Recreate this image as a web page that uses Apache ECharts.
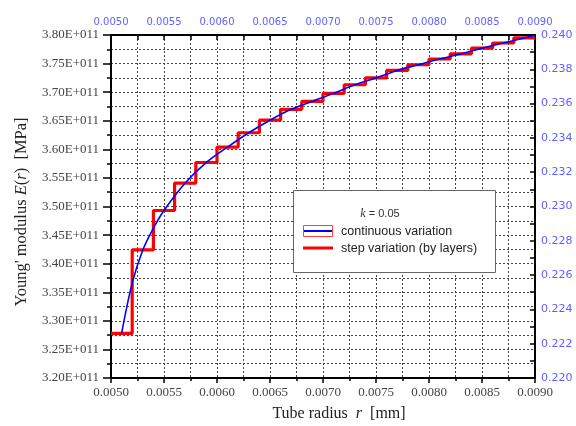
<!DOCTYPE html>
<html>
<head>
<meta charset="utf-8">
<script src="https://cdn.jsdelivr.net/npm/echarts@6/dist/echarts.min.js"></script>
<style>html,body{margin:0;padding:0;background:#fff}#c{width:576px;height:426px}</style>
</head>
<body>
<div id="c"></div>
<script>
// Layer boundaries (tube radius, mm) and step values (Young's modulus)
var layerStarts = [0.0050,0.0052,0.0054,0.0056,0.0058,0.0060,0.0062,0.0064,0.0066,0.0068,
                   0.0070,0.0072,0.0074,0.0076,0.0078,0.0080,0.0082,0.0084,0.0086,0.0088];
var layerEnd = 0.0090;
var stepValues = [3.278e11,3.424e11,3.493e11,3.541e11,3.577e11,3.604e11,3.629e11,3.651e11,3.670e11,3.684e11,
                  3.698e11,3.713e11,3.725e11,3.738e11,3.748e11,3.758e11,3.767e11,3.777e11,3.786e11,3.795e11];
// Continuous variation
var contR = [0.0051,0.0052,0.0053,0.0054,0.0055,0.0057,0.0059,0.0061,0.0063,0.0065,0.0067,0.0069,
             0.0071,0.0073,0.0075,0.0077,0.0079,0.0081,0.0083,0.0085,0.0087,0.0089,0.0090];
var contE = [3.278e11,3.366e11,3.424e11,3.462e11,3.493e11,3.541e11,3.577e11,3.604e11,3.629e11,3.651e11,3.670e11,3.684e11,
             3.698e11,3.713e11,3.725e11,3.738e11,3.748e11,3.758e11,3.767e11,3.777e11,3.786e11,3.795e11,3.799e11];
var seriesNames = ['continuous variation','step variation (by layers)'];
var legendTitle = '= 0.05';

var stepData = layerStarts.map(function(r,i){return [r, stepValues[i]];});
stepData.push([layerEnd, stepValues[stepValues.length-1]]);
var contData = contR.map(function(r,i){return [r, contE[i]];});

var dash = {show:true, lineStyle:{color:'#444', type:[2,2], width:1}};
var serif = 'Liberation Serif';
var blue = '#6060ff';
var chart = echarts.init(document.getElementById('c'));
chart.setOption({
  animation:false,
  backgroundColor:'#fff',
  grid:{left:111, right:41, top:35, bottom:48},
  xAxis:[{
    type:'value', position:'bottom', min:0.005, max:0.009, interval:0.0005,
    axisLine:{lineStyle:{color:'#000', width:2}},
    axisTick:{show:true, inside:false, length:5, lineStyle:{color:'#000', width:1.5}},
    minorTick:{show:true, splitNumber:2, length:3, lineStyle:{color:'#000', width:1.5}},
    splitLine:dash, minorSplitLine:dash,
    axisLabel:{formatter:function(v){return v.toFixed(4);}, color:'#444', fontFamily:serif, fontSize:13, margin:8}
  },{
    type:'value', position:'top', min:0.005, max:0.009, interval:0.0005,
    axisLine:{lineStyle:{color:'#000', width:2}},
    axisTick:{show:true, inside:true, length:5, lineStyle:{color:'#000', width:1.5}},
    minorTick:{show:true, splitNumber:2, length:5, lineStyle:{color:'#000', width:1.5}},
    splitLine:{show:false},
    axisLabel:{formatter:function(v){return v.toFixed(4);}, color:blue, fontFamily:'DejaVu Sans', fontSize:10, margin:8}
  }],
  yAxis:[{
    type:'value', position:'left', min:3.2e11, max:3.8e11, interval:0.05e11,
    axisLine:{show:true, lineStyle:{color:'#000', width:2}},
    axisTick:{show:true, inside:false, length:8, lineStyle:{color:'#000', width:1.5}},
    minorTick:{show:true, splitNumber:2, length:4, lineStyle:{color:'#000', width:1.5}},
    splitLine:dash, minorSplitLine:dash,
    axisLabel:{formatter:function(v){return (v/1e11).toFixed(2)+'E+011';}, color:'#444', fontFamily:serif, fontSize:13, margin:12}
  },{
    type:'value', position:'right', min:0.220, max:0.240, interval:0.002,
    axisLine:{show:true, lineStyle:{color:'#000', width:2}},
    axisTick:{show:true, inside:true, length:5, lineStyle:{color:'#000', width:1.5}},
    minorTick:{show:true, splitNumber:2, length:5, lineStyle:{color:'#000', width:1.5}},
    splitLine:{show:false},
    axisLabel:{formatter:function(v){return v.toFixed(3);}, color:blue, fontFamily:'DejaVu Sans', fontSize:11, margin:6}
  }],
  series:[{
    name:seriesNames[0], type:'line', xAxisIndex:0, yAxisIndex:0, data:contData,
    smooth:0.35, showSymbol:false, lineStyle:{color:'#0000ff', width:1.6}, z:3
  },{
    name:seriesNames[1], type:'line', xAxisIndex:0, yAxisIndex:0, data:stepData,
    step:'end', showSymbol:false, lineStyle:{color:'#ff0000', width:3.2}, z:2
  }],
  graphic:[
    {type:'text', x:22, y:212, rotation:Math.PI/2, z:10,
     style:{text:"{n|Young' modulus }{i|E}{n|(}{i|r}{n|)  [MPa]}", align:'center', verticalAlign:'middle',
       rich:{n:{fontFamily:serif, fontSize:16.5, fill:'#222'}, i:{fontFamily:serif, fontSize:16.5, fontStyle:'italic', fill:'#222'}}}},
    {type:'text', x:339, y:414, z:10,
     style:{text:"{n|Tube radius  }{i|r}{n|  [mm]}", align:'center', verticalAlign:'middle',
       rich:{n:{fontFamily:serif, fontSize:16, fill:'#222'}, i:{fontFamily:serif, fontSize:16, fontStyle:'italic', fill:'#222'}}}},
    {type:'rect', z:20, shape:{x:293.5, y:190.5, width:202, height:82}, style:{fill:'#fff', stroke:'#666', lineWidth:1}},
    {type:'text', z:21, x:380, y:214,
     style:{text:"{i|k}{n| "+legendTitle+"}", align:'center', verticalAlign:'middle',
       rich:{n:{fontFamily:'Liberation Sans', fontSize:11, fill:'#333'}, i:{fontFamily:serif, fontSize:12, fontStyle:'italic', fill:'#333'}}}},
    {type:'rect', z:21, shape:{x:303.5, y:225.5, width:29, height:11}, style:{fill:'#fff', stroke:'#ff4040', lineWidth:1}},
    {type:'line', z:22, shape:{x1:304, y1:231, x2:332, y2:231}, style:{stroke:'#0000ff', lineWidth:2}},
    {type:'text', z:21, x:341, y:232, style:{text:seriesNames[0], fontFamily:'Liberation Sans', fontSize:12.5, fill:'#222', verticalAlign:'middle'}},
    {type:'line', z:22, shape:{x1:303, y1:248, x2:333, y2:248}, style:{stroke:'#ff0000', lineWidth:3}},
    {type:'text', z:21, x:341, y:248.5, style:{text:seriesNames[1], fontFamily:'Liberation Sans', fontSize:12.5, fill:'#222', verticalAlign:'middle'}}
  ]
});
</script>
</body>
</html>
